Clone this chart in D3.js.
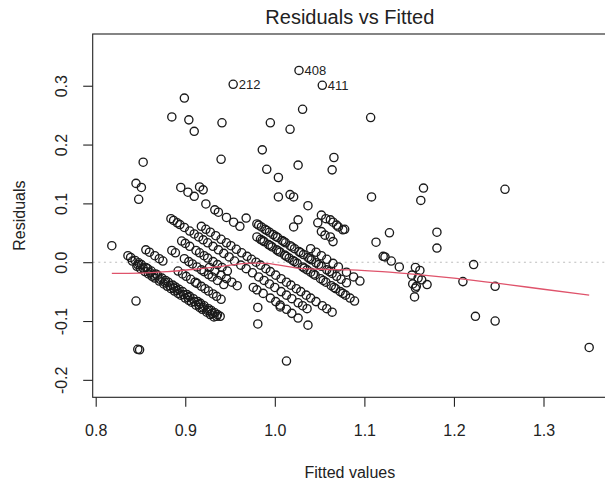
<!DOCTYPE html>
<html><head><meta charset="utf-8">
<script src="https://cdn.jsdelivr.net/npm/d3@7"></script>
<style>
body{margin:0;background:#fff}
svg{display:block;font-family:"Liberation Sans",Arial,Helvetica,sans-serif}
</style>
</head><body>
<svg id="chart" width="605" height="485"></svg>
<script>
// ---- data (fitted value, residual) ----
const fitted = [
  // isolated left
  0.818,0.845,0.851,0.848,0.853,0.845,0.847,0.849,
  // isolated upper
  0.899,0.885,0.904,0.910,0.941,0.995,1.017,1.031,0.986,0.940,1.066,0.991,1.026,1.064,1.107,1.108,1.166,1.163,1.257,1.004,
  // upper middle group
  1.004,1.017,1.021,1.037,1.026,1.048,1.052,1.057,1.062,1.065,1.069,1.071,1.076,1.078,1.052,1.056,1.062,1.065,1.021,
  // H
  0.916,0.920,0.968,
  // G left
  0.895,0.903,0.910,0.923,0.933,0.937,0.946,0.954,0.961,
  // A upper
  0.836,0.839,0.844,0.848,0.851,0.856,0.858,0.862,0.867,0.869,0.874,0.878,0.881,0.886,0.889,0.893,0.897,0.902,0.905,0.909,0.914,0.917,0.921,0.926,0.929,0.933,0.936,0.939,
  // A middle
  0.841,0.847,0.853,0.861,0.865,0.872,0.877,0.883,0.887,0.891,0.898,0.903,0.910,0.915,0.920,0.925,0.930,0.935,
  // A lower
  0.846,0.850,0.855,0.859,0.863,0.866,0.871,0.876,0.880,0.884,0.888,0.892,0.895,0.900,0.904,0.907,0.912,0.916,0.919,0.924,0.928,0.932,
  // B
  0.856,0.860,0.866,0.871,0.875,0.892,0.897,0.901,0.906,0.911,0.913,0.918,0.922,0.926,0.931,0.935,0.940,
  // C
  0.885,0.889,0.899,0.904,0.908,0.913,0.918,0.921,0.926,0.930,0.936,0.943,
  // C'
  0.927,0.933,0.940,0.946,0.952,0.958,
  // D
  0.896,0.900,0.905,0.912,0.916,0.921,0.925,0.931,0.936,0.941,0.947,
  // E
  0.884,0.887,0.891,0.894,0.899,0.905,0.910,0.915,0.920,0.925,0.931,0.937,0.943,0.949,0.955,0.962,0.968,0.975,0.982,0.988,0.994,1.000,1.007,1.013,1.019,1.026,1.031,1.036,
  // F
  0.918,0.923,0.928,0.934,0.940,0.946,0.951,0.957,0.963,0.969,0.974,0.979,0.984,0.990,0.995,1.001,1.007,1.013,1.018,1.024,1.029,1.035,1.040,1.046,1.053,1.058,1.064,
  // G main
  0.980,0.984,0.988,0.993,0.997,1.002,1.006,1.011,1.016,1.020,1.025,1.031,1.036,1.040,1.045,1.051,1.057,1.063,1.068,1.073,1.079,1.084,1.089,
  0.986,0.995,1.004,1.013,1.022,1.033,1.043,1.054,1.066,1.076,
  // L1
  0.980,0.985,0.989,0.994,0.998,1.003,1.008,1.012,1.017,1.022,1.027,1.032,1.037,1.041,1.046,1.052,1.058,1.064,1.069,1.074,1.080,
  0.982,0.991,1.001,1.010,1.019,1.029,1.039,1.049,1.061,
  // band near 1.063
  1.040,1.046,1.052,1.058,1.065,1.071,1.080,1.088,1.095,
  // band near 0.933
  0.976,0.980,0.987,0.995,1.001,1.006,1.013,1.019,1.026,1.037,
  // isolated lower middle
  0.981,0.981,1.006,1.013,
  // right cluster
  1.113,1.128,1.181,1.181,1.121,1.123,1.130,1.139,1.157,1.162,1.153,1.160,1.164,1.154,1.158,1.170,1.157,1.156,1.222,1.210,1.246,1.224,1.246,1.351
];
const residuals = [
  0.028,0.134,0.127,0.107,0.170,-0.066,-0.148,-0.149,
  0.279,0.247,0.242,0.2225,0.237,0.237,0.226,0.260,0.191,0.175,0.178,0.158,0.165,0.157,0.246,0.111,0.126,0.105,0.124,0.144,
  0.111,0.115,0.111,0.096,0.072,0.067,0.080,0.074,0.072,0.068,0.063,0.060,0.055,0.056,0.052,0.046,0.043,0.035,0.060,
  0.128,0.123,0.075,
  0.127,0.119,0.112,0.099,0.089,0.085,0.076,0.068,0.061,
  0.011,0.008,0.003,-0.001,-0.004,-0.009,-0.011,-0.015,-0.020,-0.022,-0.027,-0.031,-0.034,-0.039,-0.042,-0.046,-0.050,-0.055,-0.058,-0.062,-0.067,-0.070,-0.074,-0.079,-0.082,-0.086,-0.089,-0.092,
  0.002,-0.004,-0.010,-0.018,-0.022,-0.029,-0.034,-0.040,-0.044,-0.048,-0.055,-0.060,-0.067,-0.072,-0.077,-0.082,-0.087,-0.092,
  -0.007,-0.011,-0.016,-0.020,-0.024,-0.027,-0.032,-0.037,-0.041,-0.045,-0.049,-0.053,-0.056,-0.061,-0.065,-0.068,-0.073,-0.077,-0.080,-0.085,-0.089,-0.093,
  0.021,0.017,0.011,0.006,0.002,-0.015,-0.020,-0.024,-0.029,-0.034,-0.036,-0.041,-0.045,-0.049,-0.054,-0.058,-0.063,
  0.020,0.016,0.006,0.001,-0.003,-0.008,-0.013,-0.016,-0.021,-0.025,-0.031,-0.038,
  -0.009,-0.015,-0.022,-0.028,-0.034,-0.040,
  0.036,0.032,0.027,0.020,0.016,0.011,0.007,0.001,-0.004,-0.009,-0.015,
  0.074,0.071,0.067,0.064,0.059,0.053,0.048,0.043,0.038,0.033,0.027,0.021,0.015,0.009,0.002,-0.005,-0.011,-0.018,-0.025,-0.031,-0.037,-0.043,-0.050,-0.056,-0.062,-0.069,-0.074,-0.079,
  0.061,0.056,0.051,0.045,0.039,0.033,0.028,0.022,0.016,0.010,0.005,0.000,-0.005,-0.011,-0.016,-0.022,-0.028,-0.034,-0.039,-0.045,-0.050,-0.056,-0.061,-0.067,-0.074,-0.079,-0.085,
  0.043,0.039,0.035,0.030,0.026,0.021,0.017,0.012,0.007,0.003,-0.002,-0.008,-0.013,-0.017,-0.022,-0.028,-0.034,-0.040,-0.045,-0.050,-0.056,-0.061,-0.066,
  0.037,0.028,0.019,0.010,0.001,-0.010,-0.020,-0.031,-0.043,-0.053,
  0.065,0.060,0.056,0.051,0.047,0.042,0.037,0.033,0.028,0.023,0.018,0.013,0.008,0.004,-0.001,-0.007,-0.013,-0.019,-0.024,-0.029,-0.035,
  0.063,0.054,0.044,0.035,0.026,0.016,0.006,-0.004,-0.016,
  0.023,0.017,0.011,0.005,-0.002,-0.008,-0.017,-0.025,-0.032,
  -0.043,-0.047,-0.053,-0.061,-0.067,-0.073,-0.080,-0.087,-0.095,-0.107,
  -0.077,-0.105,-0.076,-0.168,
  0.034,0.050,0.051,0.024,0.010,0.009,0.002,-0.008,-0.009,-0.014,-0.022,-0.027,-0.030,-0.037,-0.041,-0.038,-0.044,-0.059,-0.004,-0.033,-0.041,-0.092,-0.100,-0.145
];
// labelled observations
const labelText = ["212","408","411"];
const labelFitted = [0.9535,1.027,1.053];
const labelResid = [0.3025,0.326,0.3008];
// smoother (red line)
const smoothFitted = [0.818,0.850,0.880,0.910,0.935,0.955,0.975,0.990,1.005,1.025,1.050,1.085,1.120,1.160,1.200,1.250,1.300,1.351];
const smoothResid  = [-0.019,-0.0185,-0.016,-0.012,-0.008,-0.004,-0.0015,-0.002,-0.005,-0.010,-0.012,-0.013,-0.016,-0.021,-0.027,-0.036,-0.046,-0.056];
// ticks
const xTicks = [0.8,0.9,1.0,1.1,1.2,1.3];
const yTicks = [-0.2,-0.1,0.0,0.1,0.2,0.3];
const titleText = "Residuals vs Fitted";
const xLabel = "Fitted values";
const yLabel = "Residuals";

// ---- drawing ----
const svg = d3.select("#chart");
const L = 92.7, R = 607, T = 34, B = 397.3;
const x = d3.scaleLinear().domain([0.79665, 1.3709]).range([L, R]);
const y = d3.scaleLinear().domain([-0.22968, 0.38796]).range([B, T]);
const ink = "#222";
const ptInk = "#1a1a1a";

// zero reference line
svg.append("line")
  .attr("x1", L).attr("x2", R).attr("y1", y(0)).attr("y2", y(0))
  .attr("stroke", "#bdbdbd").attr("stroke-width", 1.1)
  .attr("stroke-dasharray", "2,3.6");

// points
const pts = fitted.map((f, i) => ({f, r: residuals[i]}));
svg.append("g").selectAll("circle").data(pts).join("circle")
  .attr("cx", d => x(d.f)).attr("cy", d => y(d.r)).attr("r", 4.1)
  .attr("fill", "none").attr("stroke", ptInk).attr("stroke-width", 1.35);

const lab = labelText.map((t, i) => ({t, f: labelFitted[i], r: labelResid[i]}));
const lg = svg.append("g");
lg.selectAll("circle").data(lab).join("circle")
  .attr("cx", d => x(d.f)).attr("cy", d => y(d.r)).attr("r", 4.1)
  .attr("fill", "none").attr("stroke", ptInk).attr("stroke-width", 1.35);
lg.selectAll("text").data(lab).join("text")
  .attr("x", d => x(d.f) + 5.5).attr("y", d => y(d.r)).attr("dy", "0.36em")
  .attr("font-size", 13).attr("fill", ink).text(d => d.t);

// smoother
const sm = smoothFitted.map((f, i) => [f, smoothResid[i]]);
svg.append("path").datum(sm)
  .attr("d", d3.line().x(d => x(d[0])).y(d => y(d[1])).curve(d3.curveMonotoneX))
  .attr("fill", "none").attr("stroke", "#DF536B").attr("stroke-width", 1.3);

// box
svg.append("rect").attr("x", L).attr("y", T).attr("width", R - L).attr("height", B - T)
  .attr("fill", "none").attr("stroke", ink).attr("stroke-width", 1.1);

// x axis
const gx = svg.append("g").attr("transform", `translate(0,${B})`)
  .call(d3.axisBottom(x).tickValues(xTicks).tickFormat(d => d.toFixed(1)).tickSize(9.5).tickPadding(18));
gx.select(".domain").remove();
gx.selectAll("line").attr("stroke", ink).attr("stroke-width", 1.1);
gx.selectAll("text").attr("font-size", 16).attr("fill", ink).attr("font-family", null);

// y axis
const gy = svg.append("g").attr("transform", `translate(${L},0)`)
  .call(d3.axisLeft(y).tickValues(yTicks).tickFormat(d => d.toFixed(1)).tickSize(9.5));
gy.select(".domain").remove();
gy.selectAll("line").attr("stroke", ink).attr("stroke-width", 1.1);
gy.selectAll("text")
  .attr("x", null).attr("dy", null).attr("y", null)
  .attr("transform", "translate(-26,0) rotate(-90)")
  .attr("text-anchor", "middle")
  .attr("font-size", 16).attr("fill", ink).attr("font-family", null);

// titles
svg.append("text").attr("x", (L + R) / 2).attr("y", 24).attr("text-anchor", "middle")
  .attr("font-size", 20).attr("fill", ink).text(titleText);
svg.append("text").attr("x", (L + R) / 2).attr("y", 478).attr("text-anchor", "middle")
  .attr("font-size", 16).attr("fill", ink).text(xLabel);
svg.append("text").attr("transform", `translate(25,${(T + B) / 2}) rotate(-90)`)
  .attr("text-anchor", "middle").attr("font-size", 16).attr("fill", ink).text(yLabel);
</script>
</body></html>
